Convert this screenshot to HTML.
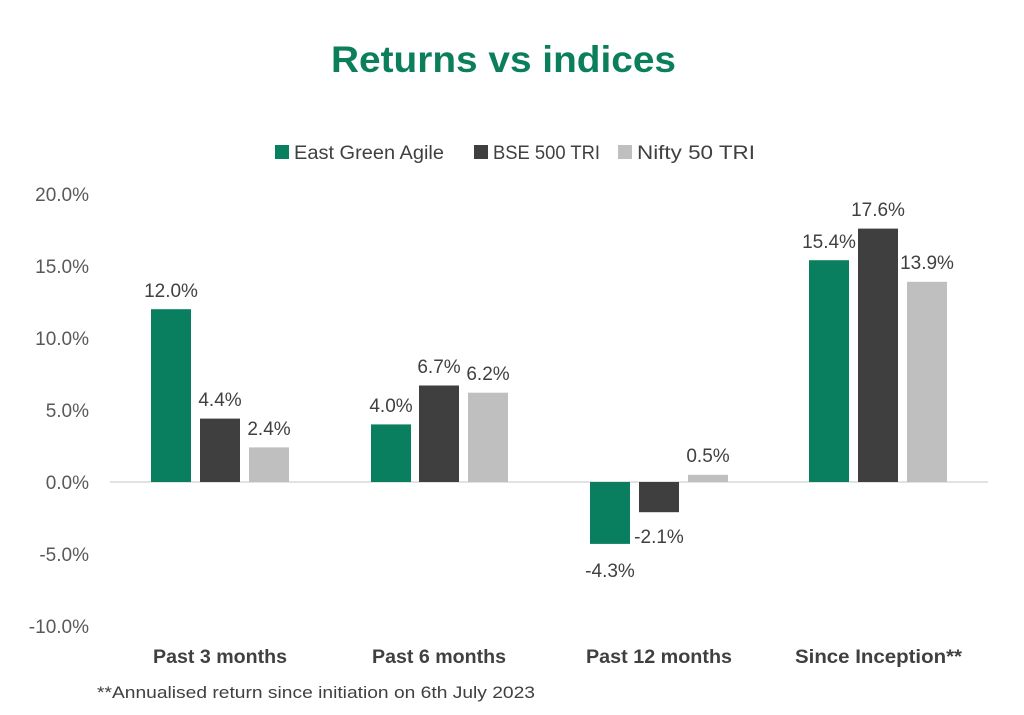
<!DOCTYPE html>
<html><head><style>
body{margin:0;background:#fff;}
svg{display:block;font-family:"Liberation Sans",sans-serif;}
</style></head><body>
<svg width="1024" height="715" viewBox="0 0 1024 715">
<rect width="1024" height="715" fill="#fff"/>
<text x="331" y="72" textLength="345" lengthAdjust="spacingAndGlyphs" font-size="37" font-weight="bold" fill="#0b7e5c">Returns vs indices</text>
<g font-size="19" fill="#404040">
<rect x="275" y="145" width="14" height="14" fill="#0a7f5f"/><text x="294" y="159" textLength="150" lengthAdjust="spacingAndGlyphs">East Green Agile</text>
<rect x="474" y="145" width="14" height="14" fill="#3f3f3f"/><text x="493" y="159" textLength="107" lengthAdjust="spacingAndGlyphs">BSE 500 TRI</text>
<rect x="618" y="145" width="14" height="14" fill="#bfbfbf"/><text x="637" y="159" textLength="118" lengthAdjust="spacingAndGlyphs">Nifty 50 TRI</text>
</g>
<g font-size="19" fill="#595959" text-anchor="end">
<text x="89" y="201">20.0%</text><text x="89" y="273">15.0%</text><text x="89" y="345">10.0%</text>
<text x="89" y="417">5.0%</text><text x="89" y="489">0.0%</text><text x="89" y="561">-5.0%</text><text x="89" y="633">-10.0%</text>
</g>
<line x1="110" y1="482" x2="988" y2="482" stroke="#d9d9d9" stroke-width="1.5"/>
<g>
<rect x="151" y="309.2" width="40" height="172.8" fill="#0a7f5f"/>
<rect x="200" y="418.6" width="40" height="63.4" fill="#3f3f3f"/>
<rect x="249" y="447.4" width="40" height="34.6" fill="#bfbfbf"/>
<rect x="371" y="424.4" width="40" height="57.6" fill="#0a7f5f"/>
<rect x="419" y="385.5" width="40" height="96.5" fill="#3f3f3f"/>
<rect x="468" y="392.7" width="40" height="89.3" fill="#bfbfbf"/>
<rect x="590" y="482" width="40" height="61.9" fill="#0a7f5f"/>
<rect x="639" y="482" width="40" height="30.2" fill="#3f3f3f"/>
<rect x="688" y="474.8" width="40" height="7.2" fill="#bfbfbf"/>
<rect x="809" y="260.2" width="40" height="221.8" fill="#0a7f5f"/>
<rect x="858" y="228.6" width="40" height="253.4" fill="#3f3f3f"/>
<rect x="907" y="281.8" width="40" height="200.2" fill="#bfbfbf"/>
</g>
<g font-size="19" fill="#404040" text-anchor="middle">
<text x="171" y="297">12.0%</text><text x="220" y="406">4.4%</text><text x="269" y="435">2.4%</text>
<text x="391" y="412">4.0%</text><text x="439" y="373">6.7%</text><text x="488" y="380">6.2%</text>
<text x="610" y="577">-4.3%</text><text x="659" y="543">-2.1%</text><text x="708" y="462">0.5%</text>
<text x="829" y="248">15.4%</text><text x="878" y="216">17.6%</text><text x="927" y="269">13.9%</text>
</g>
<g font-size="19" font-weight="bold" fill="#404040">
<text x="153" y="663" textLength="134" lengthAdjust="spacingAndGlyphs">Past 3 months</text>
<text x="372" y="663" textLength="134" lengthAdjust="spacingAndGlyphs">Past 6 months</text>
<text x="586" y="663" textLength="146" lengthAdjust="spacingAndGlyphs">Past 12 months</text>
<text x="795" y="663" textLength="167" lengthAdjust="spacingAndGlyphs">Since Inception**</text>
</g>
<text x="97" y="698" font-size="17" fill="#404040" textLength="438" lengthAdjust="spacingAndGlyphs">**Annualised return since initiation on 6th July 2023</text>
</svg>
</body></html>
